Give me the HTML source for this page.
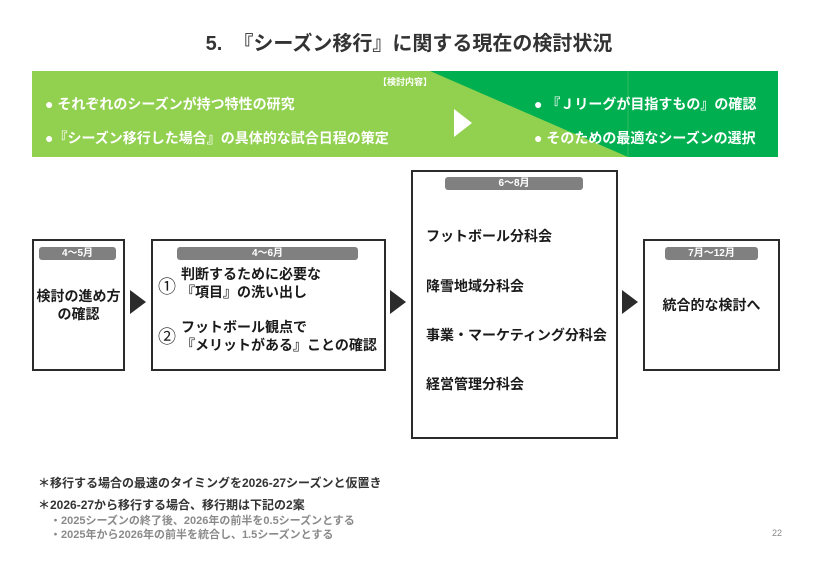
<!DOCTYPE html>
<html><head><meta charset="utf-8"><style>
*{margin:0;padding:0;box-sizing:border-box}
body{width:818px;height:564px;background:#fff;position:relative;overflow:hidden;font-family:"Liberation Sans","Noto Sans CJK JP",sans-serif;font-weight:bold;color:#1a1a1a}
.a{position:absolute;white-space:nowrap}
.box{position:absolute;border:2px solid #2b2b2b;background:#fff}
.tag{position:absolute;background:#808080;color:#fff;font-size:10px;text-align:center;height:13px;line-height:13px;border-radius:3px}
.w{color:#fff;font-size:14px}
.tri{position:absolute;width:0;height:0;border-top:12px solid transparent;border-bottom:12px solid transparent;border-left:16px solid #2b2b2b}
</style></head><body>
<div class="a" style="left:0;width:818px;top:27px;text-align:center;font-size:20px;color:#333">5.&nbsp; 『シーズン移行』に関する現在の検討状況</div>
<svg class="a" style="left:32px;top:71px" width="746" height="86">
<rect width="746" height="86" fill="#92d050"/>
<polygon points="398,0 746,0 746,86 596,86" fill="#00b050"/>
<line x1="596" y1="0" x2="596" y2="86" stroke="#2fbb5f" stroke-width="1"/>
<polygon points="422,38 440,52 422,66" fill="#fff"/>
</svg>
<div class="a" style="left:378px;top:75px;font-size:9px;color:#fff">【検討内容】</div>
<div class="a w" style="left:45px;top:94px">● それぞれのシーズンが持つ特性の研究</div>
<div class="a w" style="left:45px;top:128px">●『シーズン移行した場合』の具体的な試合日程の策定</div>
<div class="a w" style="left:534px;top:94px">● 『Ｊリーグが目指すもの』の確認</div>
<div class="a w" style="left:534px;top:128px">● そのための最適なシーズンの選択</div>

<div class="box" style="left:32px;top:239px;width:93px;height:132px"></div>
<div class="tag" style="left:39px;top:247px;width:77px">4〜5月</div>
<div class="a" style="left:32px;width:93px;text-align:center;top:287px;font-size:14px;line-height:18px">検討の進め方<br>の確認</div>
<div class="tri" style="left:130px;top:290px"></div>

<div class="box" style="left:151px;top:239px;width:235px;height:132px"></div>
<div class="tag" style="left:177px;top:247px;width:181px">4〜6月</div>
<div class="a" style="left:158px;top:273px;font-size:18px;font-weight:normal">①</div>
<div class="a" style="left:181px;top:265px;font-size:14px;line-height:18px">判断するために必要な<br>『項目』の洗い出し</div>
<div class="a" style="left:158px;top:323px;font-size:18px;font-weight:normal">②</div>
<div class="a" style="left:181px;top:318px;font-size:14px;line-height:18px">フットボール観点で<br>『メリットがある』ことの確認</div>
<div class="tri" style="left:390px;top:290px"></div>

<div class="box" style="left:411px;top:170px;width:207px;height:269px"></div>
<div class="tag" style="left:445px;top:177px;width:138px">6〜8月</div>
<div class="a" style="left:426px;top:226px;font-size:14px">フットボール分科会</div>
<div class="a" style="left:426px;top:276px;font-size:14px">降雪地域分科会</div>
<div class="a" style="left:426px;top:325px;font-size:14px">事業・マーケティング分科会</div>
<div class="a" style="left:426px;top:374px;font-size:14px">経営管理分科会</div>
<div class="tri" style="left:622px;top:290px"></div>

<div class="box" style="left:643px;top:239px;width:137px;height:132px"></div>
<div class="tag" style="left:665px;top:247px;width:93px">7月〜12月</div>
<div class="a" style="left:643px;width:137px;text-align:center;top:295px;font-size:14px">統合的な検討へ</div>

<div class="a" style="left:38px;top:474px;font-size:12px;color:#333">＊移行する場合の最速のタイミングを2026-27シーズンと仮置き</div>
<div class="a" style="left:38px;top:496px;font-size:12px;color:#333">＊2026-27から移行する場合、移行期は下記の2案</div>
<div class="a" style="left:50px;top:512px;font-size:11px;color:#8a8a8a">・2025シーズンの終了後、2026年の前半を0.5シーズンとする</div>
<div class="a" style="left:50px;top:526px;font-size:11px;color:#8a8a8a">・2025年から2026年の前半を統合し、1.5シーズンとする</div>
<div class="a" style="left:772px;top:528px;font-size:9px;font-weight:normal;color:#888">22</div>
</body></html>
